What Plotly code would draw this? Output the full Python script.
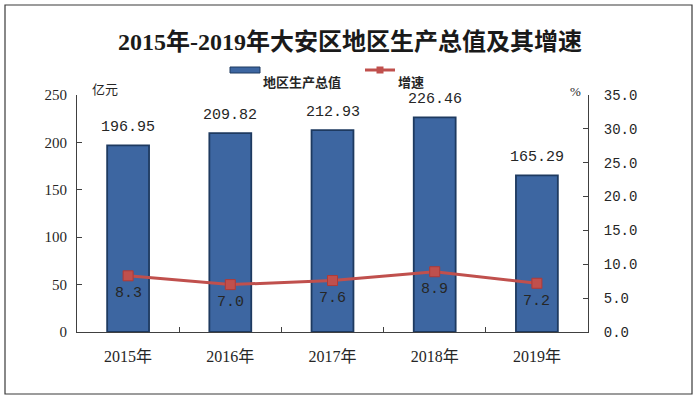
import plotly.graph_objects as go

years = ["2015年", "2016年", "2017年", "2018年", "2019年"]
gdp = [196.95, 209.82, 212.93, 226.46, 165.29]
growth = [8.3, 7.0, 7.6, 8.9, 7.2]
gdp_ticks = [0, 50, 100, 150, 200, 250]
growth_ticks = [0, 5, 10, 15, 20, 25, 30, 35]

W, H = 700, 401
L, R, T, B = 77, 588, 95, 332

def px(x):
    return (x - L) / (R - L)

def py(y):
    return (B - y) / (B - T)

MONO = "Liberation Mono"
SERIF = "Liberation Serif"
CJK = "Noto Sans CJK SC"
TXT = "#262626"
AX = "#404040"
BLUE = "#3D66A1"
RED = "#C0504D"

fig = go.Figure()
fig.add_trace(go.Bar(
    x=years, y=gdp, name="地区生产总值",
    marker=dict(color=BLUE, line=dict(color="#1E3A60", width=1.8)),
    showlegend=False, yaxis="y",
))
fig.add_trace(go.Scatter(
    x=years, y=growth, name="增速", mode="lines+markers",
    line=dict(color=RED, width=3),
    marker=dict(symbol="square", size=10, color=RED, line=dict(color="#B03A37", width=1)),
    showlegend=False, yaxis="y2",
))

ann = []
for x, v in zip(years, gdp):
    ann.append(dict(x=x, y=v, xref="x", yref="y", text=f"{v:.2f}", showarrow=False,
                    yshift=18, font=dict(family=MONO, size=15, color=TXT)))
for x, v in zip(years, growth):
    ann.append(dict(x=x, y=v, xref="x", yref="y2", text=f"{v:.1f}", showarrow=False,
                    yshift=-18, font=dict(family=MONO, size=15, color=TXT)))

# axis titles
ann.append(dict(x=px(90), y=py(77), xref="paper", yref="paper", text="亿元", showarrow=False,
                font=dict(family=CJK, size=13, color=TXT)))
ann.append(dict(x=px(583), y=py(82), xref="paper", yref="paper", text="%", showarrow=False,
                font=dict(family=SERIF, size=13, color=TXT)))
# legend texts
ann.append(dict(x=px(261), y=py(70), xref="paper", yref="paper", text="<b>地区生产总值</b>",
                showarrow=False, xanchor="left", font=dict(family=CJK, size=13, color=TXT)))
ann.append(dict(x=px(396), y=py(70), xref="paper", yref="paper", text="<b>增速</b>",
                showarrow=False, xanchor="left", font=dict(family=CJK, size=13, color=TXT)))

shapes = [
    # outer frame
    dict(type="rect", xref="paper", yref="paper", x0=px(5), x1=px(692), y0=py(394), y1=py(5),
         line=dict(color="#3A3A3A", width=1.2), layer="below"),
    # legend swatches
    dict(type="rect", xref="paper", yref="paper", x0=px(230), x1=px(260), y0=py(73), y1=py(67),
         fillcolor=BLUE, line=dict(color="#1E3A60", width=1)),
    dict(type="line", xref="paper", yref="paper", x0=px(365), x1=px(395), y0=py(70), y1=py(70),
         line=dict(color=RED, width=3)),
    dict(type="rect", xref="paper", yref="paper", x0=px(376.5), x1=px(383.5), y0=py(73.5), y1=py(66.5),
         fillcolor=RED, line=dict(color=RED, width=0)),
]

fig.update_layout(
    width=W, height=H,
    margin=dict(l=L, r=W - R, t=T, b=H - B, pad=0),
    paper_bgcolor="white", plot_bgcolor="white",
    bargap=0.59,
    title=dict(text="<b>2015年-2019年大安区地区生产总值及其增速</b>", x=0.5, xanchor="center",
               y=1 - 42 / H, yanchor="middle",
               font=dict(family=SERIF + ", " + CJK, size=24, color="#1a1a1a")),
    xaxis=dict(
        type="category", showline=True, linecolor=AX, linewidth=1, mirror=False,
        ticks="inside", tickson="boundaries", ticklen=5, tickcolor=AX,
        showgrid=False, ticklabelstandoff=10,
        tickfont=dict(family=SERIF + ", " + CJK, size=16, color=TXT),
    ),
    yaxis=dict(
        range=[0, 250], tickvals=gdp_ticks, showline=True, linecolor=AX, linewidth=1,
        ticks="inside", ticklen=5, tickcolor=AX, showgrid=False, zeroline=False,
        ticklabelstandoff=6,
        tickfont=dict(family=SERIF, size=15, color=TXT),
    ),
    yaxis2=dict(
        range=[0, 35], tickvals=growth_ticks, tickformat=".1f", overlaying="y", side="right",
        showline=True, linecolor=AX, linewidth=1, ticks="inside", ticklen=5, tickcolor=AX,
        showgrid=False, zeroline=False, ticklabelstandoff=12,
        tickfont=dict(family=MONO, size=14, color=TXT),
    ),
    annotations=ann,
    shapes=shapes,
)

fig.write_html("out.html", config={"displayModeBar": False},
               post_script="document.body.style.margin='0';document.body.style.overflow='hidden';")
